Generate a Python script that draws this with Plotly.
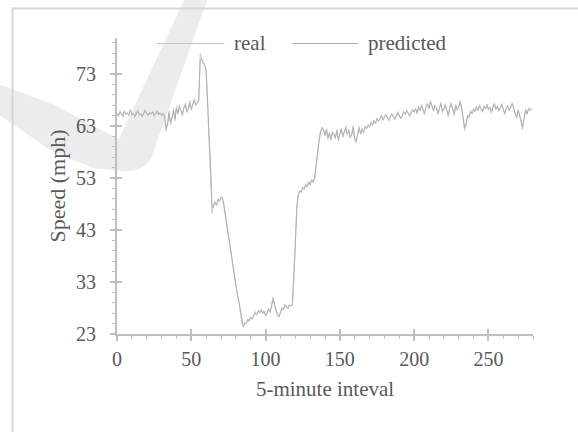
import plotly.graph_objects as go

# ---------------- data ----------------
real = [
    65.3, 64.8, 65.9, 65.1, 64.7, 66.0, 65.2, 65.6, 64.9, 66.3, 65.0, 65.5, 64.6, 65.8, 66.1, 65.0,
    65.4, 64.7, 65.6, 66.2, 65.3, 64.9, 65.7, 65.2, 65.9, 64.8, 65.4, 66.0, 65.1, 65.6, 64.9, 65.5,
    64.8, 62.0, 63.5, 65.9, 63.2, 64.6, 66.3, 64.0, 66.8, 65.2, 67.1, 65.8, 64.9, 66.7, 67.4, 65.6,
    66.3, 67.9, 66.0, 67.2, 68.3, 66.9, 67.5, 68.1,
    76.9, 75.8, 75.3, 74.9, 73.6, 67.0, 60.2, 54.5, 46.3,
    47.8, 48.5, 47.6, 49.1, 48.4, 49.5, 49.3, 47.4,
    45.5, 43.6, 41.2, 39.3, 37.6, 35.8, 34.0, 32.2, 30.5, 29.4, 27.0, 25.1, 24.3,
    25.2, 24.9, 25.9, 25.4, 26.3, 25.8, 26.7, 27.3, 26.6, 27.6, 27.0, 27.8, 26.9, 27.5, 26.4, 26.8,
    28.0, 27.1, 28.6, 30.1, 28.5, 27.3, 26.5, 26.2, 27.4, 28.1, 27.6, 28.8, 28.2, 27.8, 28.7, 28.4, 28.6,
    34.0, 40.5, 47.5, 50.0, 50.6, 50.2, 51.3, 50.8, 51.9, 51.2, 52.4, 51.5, 52.8, 52.1, 53.0, 55.7,
    58.3, 60.4, 62.1,
    62.8, 62.3, 61.0, 62.5, 60.4, 61.8, 60.2, 62.0, 61.3, 60.5, 62.3, 60.1, 61.6, 62.6, 60.8, 61.9,
    63.0, 61.2, 62.4, 60.6, 61.5, 63.1, 60.3, 59.8, 61.7, 62.9, 61.4, 62.6,
    61.6, 63.0, 62.4, 63.3, 62.7, 63.8, 63.1, 64.2, 63.4, 64.6, 63.9, 64.4, 65.2, 64.1, 64.8, 65.3,
    64.5, 64.0, 64.9, 65.5, 64.7, 64.2, 65.0, 65.8, 64.9, 64.3, 65.1, 65.9, 65.2, 66.1, 65.4, 64.8,
    65.7, 66.3, 65.6,
    66.5, 65.3, 66.8, 65.9, 67.2, 66.0, 65.1, 66.9, 67.4, 66.2, 67.9, 66.7, 65.8, 67.1, 66.4, 65.2,
    66.8, 67.6, 65.5, 66.3, 67.3, 65.9, 64.8, 66.7, 67.5, 66.1, 65.0, 67.2, 66.0, 66.8, 67.9, 66.2,
    64.5, 62.1, 63.4, 65.2, 64.6, 66.0, 65.3, 66.4,
    65.7, 66.8, 65.9, 67.1, 66.2, 65.6, 66.9, 66.3, 67.2, 66.0, 66.7, 65.4, 66.8, 67.4, 66.1, 66.9,
    65.8, 66.6, 67.3, 66.0, 65.2, 66.5, 67.0, 65.9, 66.7, 67.5, 66.3, 65.1, 64.4, 66.2, 65.0, 63.9,
    62.3, 64.8, 66.3, 65.2, 66.5, 66.1, 66.4,
]

predicted = [
    65.5, 65.1, 65.6, 65.4, 65.0, 65.7, 65.4, 65.4, 65.2, 65.9, 65.3, 65.3, 64.9, 65.5, 65.8, 65.3,
    65.3, 65.0, 65.4, 65.9, 65.5, 65.1, 65.5, 65.4, 65.7, 65.1, 65.3, 65.8, 65.3, 65.4, 65.1, 65.3,
    65.0, 62.6, 63.2, 65.4, 63.8, 64.5, 65.9, 64.4, 66.3, 65.6, 66.7, 66.0, 65.3, 66.4, 67.0, 65.9,
    66.2, 67.5, 66.4, 67.0, 67.9, 67.1, 67.4, 67.8,
    75.8, 75.9, 75.0, 74.6, 73.8, 68.1, 61.0, 55.2, 47.3,
    47.5, 48.2, 47.9, 48.8, 48.6, 49.2, 49.0, 47.8,
    45.8, 43.9, 41.6, 39.6, 37.9, 36.1, 34.3, 32.5, 30.8, 29.2, 27.4, 25.5, 24.6,
    25.0, 25.2, 25.6, 25.6, 26.0, 26.0, 26.4, 27.0, 26.8, 27.3, 27.2, 27.5, 27.1, 27.3, 26.7, 26.9,
    27.7, 27.3, 28.2, 29.6, 28.8, 27.6, 26.8, 26.4, 27.1, 27.8, 27.7, 28.5, 28.3, 28.0, 28.5, 28.5, 28.5,
    33.2, 39.8, 46.8, 49.6, 50.4, 50.4, 51.0, 51.0, 51.6, 51.4, 52.1, 51.8, 52.5, 52.3, 52.8, 55.2,
    57.9, 60.0, 61.7,
    62.5, 62.4, 61.3, 62.2, 60.8, 61.5, 60.5, 61.7, 61.5, 60.8, 62.0, 60.5, 61.3, 62.3, 61.1, 61.7,
    62.6, 61.5, 62.1, 60.9, 61.3, 62.7, 60.7, 60.1, 61.4, 62.5, 61.6, 62.3,
    61.9, 62.7, 62.6, 63.1, 62.9, 63.5, 63.3, 63.9, 63.6, 64.3, 64.0, 64.3, 64.9, 64.3, 64.6, 65.1,
    64.7, 64.2, 64.7, 65.2, 64.9, 64.4, 64.8, 65.5, 65.1, 64.5, 64.9, 65.6, 65.3, 65.8, 65.5, 65.0,
    65.5, 66.0, 65.7,
    66.2, 65.6, 66.5, 66.1, 66.8, 66.2, 65.5, 66.6, 67.1, 66.4, 67.5, 66.9, 66.1, 66.8, 66.5, 65.5,
    66.5, 67.2, 65.9, 66.2, 67.0, 66.1, 65.2, 66.4, 67.1, 66.3, 65.4, 66.9, 66.2, 66.6, 67.5, 66.4,
    64.9, 62.7, 63.4, 64.9, 64.8, 65.7, 65.5, 66.1,
    65.9, 66.5, 66.1, 66.8, 66.4, 65.9, 66.6, 66.4, 66.9, 66.2, 66.5, 65.7, 66.5, 67.1, 66.3, 66.7,
    66.0, 66.4, 67.0, 66.2, 65.5, 66.3, 66.8, 66.1, 66.5, 67.2, 66.5, 65.4, 64.8, 65.9, 65.2, 64.2,
    62.8, 64.4, 65.9, 65.4, 66.2, 66.0, 66.2,
]

x_real = list(range(len(real)))
x_pred = list(range(len(predicted)))

x_tickvals = [0, 50, 100, 150, 200, 250]
y_tickvals = [23, 33, 43, 53, 63, 73]
series_names = ["real", "predicted"]

# ---------------- layout geometry ----------------
W, H = 578, 432
ML, MR, MT, MB = 117, 45, 38, 98
PW = W - ML - MR
PH = H - MT - MB

def px(x):
    return (x - ML) / PW

def py(y):
    return (H - MB - y) / PH

FONT = "Liberation Serif"
AXC = "#bfbfbf"
TXT = "#595959"
C_REAL = "#c6c6c6"
C_PRED = "#adadad"

fig = go.Figure()
fig.add_trace(go.Scatter(x=x_real, y=real, mode="lines", name=series_names[0],
                         line=dict(color=C_REAL, width=1), showlegend=False))
fig.add_trace(go.Scatter(x=x_pred, y=predicted, mode="lines", name=series_names[1],
                         line=dict(color=C_PRED, width=0.9), showlegend=False))
# helper trace so the overlay axes (inner half of crossing ticks) get drawn
fig.add_trace(go.Scatter(x=[None], y=[None], xaxis="x2", yaxis="y2",
                         showlegend=False, hoverinfo="skip"))

XR = [0, 280]
YR = [23, 23 + PH / 5.2]

common_x = dict(range=XR, tickvals=x_tickvals, tickcolor=AXC, tickwidth=1.5, ticklen=5,
                minor=dict(dtick=10, tick0=0, ticklen=3, tickcolor=AXC, tickwidth=1.2,
                           showgrid=False),
                showgrid=False, zeroline=False, fixedrange=True)
common_y = dict(range=YR, tickvals=y_tickvals, tickcolor=AXC, tickwidth=1.5, ticklen=5,
                minor=dict(dtick=2, tick0=23, ticklen=3, tickcolor=AXC, tickwidth=1.2,
                           showgrid=False),
                showgrid=False, zeroline=False, fixedrange=True)

fig.update_layout(
    width=W, height=H,
    margin=dict(l=ML, r=MR, t=MT, b=MB, pad=0),
    paper_bgcolor="white",
    plot_bgcolor="rgba(0,0,0,0)",
    font=dict(family=FONT, size=20, color=TXT),
    showlegend=False,
    xaxis=dict(**common_x, ticks="outside", showline=True, linecolor=AXC, linewidth=2,
               tickfont=dict(family=FONT, size=20, color=TXT), ticklabelstandoff=1,
               title=dict(text="5-minute inteval", font=dict(family=FONT, size=21, color=TXT),
                          standoff=12)),
    yaxis=dict(**common_y, ticks="outside", showline=True, linecolor=AXC, linewidth=2,
               tickfont=dict(family=FONT, size=20, color=TXT), ticklabelstandoff=10,
               title=dict(text="Speed (mph)", font=dict(family=FONT, size=22, color=TXT),
                          standoff=4)),
    xaxis2=dict(**common_x, ticks="inside", showline=False, showticklabels=False,
                overlaying="x", anchor="y2", side="bottom"),
    yaxis2=dict(**common_y, ticks="inside", showline=False, showticklabels=False,
                overlaying="y", anchor="x2", side="left"),
)

# ---------------- decorations ----------------
# faint watermark swoosh (page decoration, paper coordinates)
wm = [(185, -2), (208, -2), (160, 133), (152, 156)]
path = "M {:.4f},{:.4f}".format(px(wm[0][0]), py(wm[0][1]))
for (a, b) in wm[1:]:
    path += " L {:.4f},{:.4f}".format(px(a), py(b))
path += " Q {:.4f},{:.4f} {:.4f},{:.4f}".format(px(144), py(173), px(122), py(171))
for (a, b) in [(93, 168), (50, 150), (-2, 114), (-2, 84), (50, 103), (90, 124), (119, 139)]:
    path += " L {:.4f},{:.4f}".format(px(a), py(b))
path += " Z"
fig.add_shape(type="path", path=path, xref="paper", yref="paper",
              fillcolor="#ececec", line=dict(width=0), layer="below")

# page frame
fig.add_shape(type="rect", xref="paper", yref="paper",
              x0=px(12.5), y0=py(8.5), x1=px(600), y1=py(460),
              line=dict(color="#d6d6d6", width=2), fillcolor="rgba(0,0,0,0)", layer="below")

# manual legend (longer sample lines than plotly's built-in legend)
leg_y = py(43.5)
legend_items = [(157, 224, 232, C_REAL), (292, 358, 366, C_PRED)]
for name, (l0, l1, tx, col) in zip(series_names, legend_items):
    fig.add_shape(type="line", xref="paper", yref="paper", x0=px(l0), x1=px(l1),
                  y0=leg_y, y1=leg_y, line=dict(color=col, width=1))
    fig.add_annotation(xref="paper", yref="paper", x=px(tx), y=leg_y, text=name,
                       showarrow=False, xanchor="left", yanchor="middle",
                       font=dict(family=FONT, size=21, color=TXT))

fig.write_html("out.html", config={"displayModeBar": False},
               post_script="document.body.style.margin='0';document.body.style.overflow='hidden';")
